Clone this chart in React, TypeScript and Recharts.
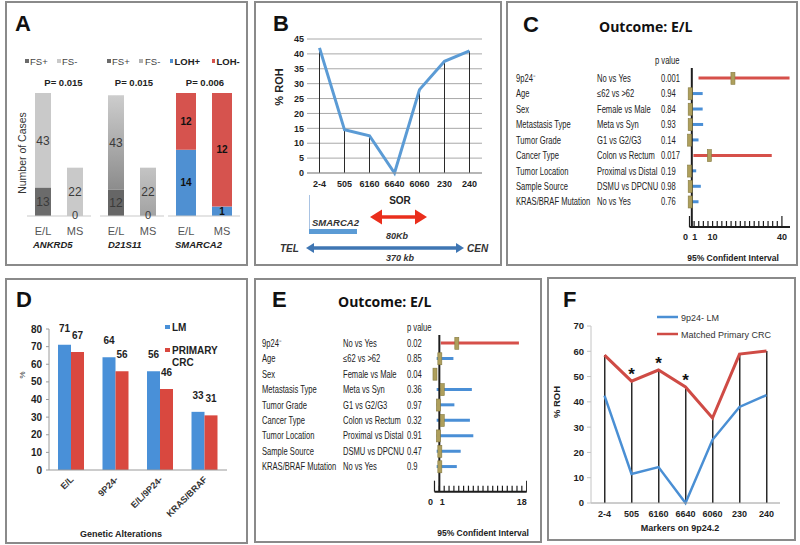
import React from "react";
import {
  Bar,
  BarChart,
  CartesianGrid,
  Cell,
  ComposedChart,
  LabelList,
  Line,
  ReferenceLine,
  XAxis,
  YAxis,
} from "recharts";

// panel A: marker status by outcome group
const A_GROUPS = ["E/L", "MS"];
const ANKRD5_FS_POS = [13, 0];
const ANKRD5_FS_NEG = [43, 22];
const D21S11_FS_POS = [12, 0];
const D21S11_FS_NEG = [43, 22];
const SMARCA2_LOH_POS = [14, 1];
const SMARCA2_LOH_NEG = [12, 12];
const A_GENES = ["ANKRD5", "D21S11", "SMARCA2"];
const A_PVALUES = ["P= 0.015", "P= 0.015", "P= 0.006"];

// panels B and F: markers on 9p24.2
const MARKERS = ["2-4", "505", "6160", "6640", "6060", "230", "240"];
const B_ROH = [42, 14.5, 12.5, 0, 28, 37.5, 41];
const B_TICKS = [0, 5, 10, 15, 20, 25, 30, 35, 40, 45];
const F_LM = [42.5, 11.5, 14.2, 0, 25, 38, 42.7];
const F_PRIMARY = [58.5, 48.2, 52.6, 45.9, 33.6, 58.9, 60.1];
const F_SIG = ["", "*", "*", "*", "", "", ""];
const F_TICKS = [0, 10, 20, 30, 40, 50, 60, 70];

// panels C and E: forest plots, outcome E/L
const FACTORS = [
  "9p24⁻",
  "Age",
  "Sex",
  "Metastasis Type",
  "Tumor Grade",
  "Cancer Type",
  "Tumor Location",
  "Sample Source",
  "KRAS/BRAF Mutation",
];
const COMPARISONS = [
  "No vs Yes",
  "≤62 vs >62",
  "Female vs Male",
  "Meta vs Syn",
  "G1 vs G2/G3",
  "Colon vs Rectum",
  "Proximal vs Distal",
  "DSMU vs DPCNU",
  "No vs Yes",
];
const C_PVALUES = ["0.001", "0.94", "0.84", "0.93", "0.14", "0.017", "0.19", "0.98", "0.76"];
const C_OR = [18.8, 0.3, 0.3, 0.3, 0, 8.6, 0, 0.3, 0.3];
const C_LOW = [3.9, 0.3, 0.3, 0.3, 0, 1.7, 0, 0.3, 0.3];
const C_HIGH = [43.3, 5.7, 5.7, 5.9, 3.9, 35.6, 2.9, 4.9, 3.9];
const C_TICKS = [0, 1, 2, 4, 6, 8, 10, 12, 14, 16, 18, 20, 22, 24, 26, 28, 30, 32, 34, 36, 38, 40];
const C_TICK_LABELS = [0, 1, 10, 40];

const E_PVALUES = ["0.02", "0.85", "0.04", "0.36", "0.97", "0.32", "0.91", "0.47", "0.9"];
const E_OR = [4.6, 1.1, 0.1, 1.6, 0.8, 1.6, 0.8, 1.1, 1.1];
const E_LOW = [1.3, 0.45, 0, 0.45, 0.45, 0.45, 0.45, 0.45, 0.45];
const E_HIGH = [17.4, 3.9, 0.3, 7.7, 4.1, 7.3, 8.0, 5.4, 4.6];
const E_TICKS = [0, 1, 2, 3, 4, 5, 6, 7, 8, 9, 10, 11, 12, 13, 14, 15, 16, 17, 18, 19];
const E_TICK_LABELS = [0, 1, 18];

// panel D
const D_ALTERATIONS = ["E/L", "9P24-", "E/L/9P24-", "KRAS/BRAF"];
const D_LM = [71, 64, 56, 33];
const D_PRIMARY = [67, 56, 46, 31];
const D_TICKS = [0, 10, 20, 30, 40, 50, 60, 70, 80];

const BLUE = "#4a8fd6";
const RED = "#d6504a";
const DARK = "#1e1e1e";
const SANS = "'Liberation Sans', Arial, sans-serif";

const pairData = (a: number[], b: number[], ka: string, kb: string) =>
  A_GROUPS.map((g, i) => ({ cat: g, [ka]: a[i], [kb]: b[i] }));

const forestRows = (p: string[], or: number[], lo: number[], hi: number[]) =>
  FACTORS.map((f, i) => ({
    factor: f,
    comp: COMPARISONS[i],
    p: p[i],
    or: or[i],
    ci: [lo[i], hi[i]],
    sig: parseFloat(p[i]) < 0.05,
  }));

function Narrow({ x, y, children, size = 10, sx = 0.76, anchor = "start" }: any) {
  return (
    <text
      transform={`translate(${x},${y}) scale(${sx},1)`}
      fontSize={size}
      fill="#222"
      textAnchor={anchor}
      fontFamily={SANS}
    >
      {children}
    </text>
  );
}

function RowTick(props: any) {
  const { y, payload, rows, cols, chartLeft } = props;
  const r = rows.find((row: any) => row.factor === payload.value);
  if (!r) return null;
  return (
    <g>
      {[r.factor, r.comp, r.p].map((t: string, i: number) => (
        <Narrow key={i} x={cols[i] - chartLeft} y={y + 3.5}>
          {t}
        </Narrow>
      ))}
    </g>
  );
}

function CombTick(props: any) {
  const { x, y, payload, labels, first, last } = props;
  const v = payload.value;
  const tall = v === first || v === last;
  const shift = v === 0 ? -4 : v === 1 ? 3 : 0;
  return (
    <g>
      <line x1={x} x2={x} y1={y} y2={y - (tall ? 11 : 6)} stroke={DARK} strokeWidth={1.2} />
      {labels.includes(v) ? (
        <text x={x + shift} y={y + 13} textAnchor="middle" fontSize={9} fontWeight="bold" fill={DARK}>
          {v}
        </text>
      ) : null}
    </g>
  );
}

function OliveDot(props: any) {
  const { cx, cy } = props;
  if (cx == null || cy == null) return null;
  return <rect x={cx - 2} y={cy - 6} width={4} height={12} fill="#ae9f5c" stroke="#857a40" strokeWidth={0.6} />;
}

function SlantTick(props: any) {
  const { x, y, payload } = props;
  return (
    <text
      transform={`translate(${x + 3},${y + 10}) rotate(-45)`}
      textAnchor="end"
      fontSize={9}
      fontWeight="bold"
      fill="#333"
    >
      {payload.value}
    </text>
  );
}

const centerLabel = (style: any) => (p: any) => {
  const { x, y, width, height, value, index } = p;
  if (value == null || x == null) return null;
  return (
    <text key={index} x={x + width / 2} y={y + height / 2} dy="0.36em" textAnchor="middle" {...style}>
      {value}
    </text>
  );
};

// an empty bottom segment is not labelled by recharts, so its "0" hangs under the segment above it
const zeroLabel = (style: any) => (p: any) => {
  const { x, y, width, height, value, index } = p;
  if (value !== 0 || x == null) return null;
  return (
    <text key={index} x={x + width / 2} y={y + height - 1} dy="0.36em" textAnchor="middle" {...style} fontSize={11}>
      {value}
    </text>
  );
};

function Forest({ left, top, yWidth, width, height, domain, ticks, labels, rows, cols, pad }: any) {
  return (
    <div style={{ position: "absolute", left, top }}>
      <ComposedChart
        layout="vertical"
        width={width}
        height={height}
        data={rows}
        margin={{ top: 0, right: 0, bottom: 0, left: 0 }}
      >
        <XAxis
          type="number"
          domain={domain}
          ticks={ticks}
          interval={0}
          height={22}
          tickLine={false}
          tickSize={0}
          tickMargin={0}
          axisLine={{ stroke: DARK, strokeWidth: 2 }}
          tick={<CombTick labels={labels} first={ticks[0]} last={ticks[ticks.length - 1]} />}
        />
        <YAxis
          type="category"
          dataKey="factor"
          width={yWidth}
          axisLine={false}
          tickLine={false}
          interval={0}
          padding={pad}
          tick={<RowTick rows={rows} cols={cols} chartLeft={left} />}
        />
        <Bar dataKey="ci" barSize={3} isAnimationActive={false}>
          {rows.map((r: any, i: number) => (
            <Cell key={i} fill={r.sig ? RED : BLUE} />
          ))}
        </Bar>
        <ReferenceLine x={1} stroke={DARK} strokeWidth={2} />
        <Line dataKey="or" stroke="none" dot={<OliveDot />} isAnimationActive={false} />
      </ComposedChart>
    </div>
  );
}

function MiniStack({ left, width, data, segs, barSize, expand, label }: any) {
  return (
    <div style={{ position: "absolute", left, top: 93 }}>
      <BarChart
        width={width}
        height={147}
        data={data}
        margin={{ top: 0, right: 0, bottom: 0, left: 0 }}
        stackOffset={expand ? "expand" : "none"}
      >
        <defs>
          <linearGradient id="fsNegDark" x1="0" y1="0" x2="0" y2="1">
            <stop offset="0%" stopColor="#cdcdcd" />
            <stop offset="100%" stopColor="#8c8c8c" />
          </linearGradient>
          <linearGradient id="fsNegMid" x1="0" y1="0" x2="0" y2="1">
            <stop offset="0%" stopColor="#c4c4c4" />
            <stop offset="100%" stopColor="#a2a2a2" />
          </linearGradient>
        </defs>
        <XAxis
          dataKey="cat"
          height={24}
          tickLine={false}
          tickSize={0}
          tickMargin={11}
          interval={0}
          axisLine={{ stroke: "#c9c9c9" }}
          tick={{ fontSize: 11, fill: "#555" }}
        />
        <YAxis hide domain={expand ? [0, 1] : [0, 56]} />
        {segs.map((s: any, k: number) => (
          <Bar key={s.key} dataKey={s.key} stackId="a" fill={s.fill} barSize={barSize} isAnimationActive={false}>
            {s.cells ? s.cells.map((c: string, i: number) => <Cell key={i} fill={c} />) : null}
            <LabelList dataKey={s.key} content={centerLabel(label)} />
            {k === segs.length - 1 ? <LabelList dataKey={segs[0].key} content={zeroLabel(label)} /> : null}
          </Bar>
        ))}
      </BarChart>
    </div>
  );
}

function Square({ x, y, fill, w = 4 }: any) {
  return <rect x={x} y={y} width={w} height={4} fill={fill} />;
}

export default function App() {
  const ankrd5 = pairData(ANKRD5_FS_POS, ANKRD5_FS_NEG, "pos", "neg");
  const d21s11 = pairData(D21S11_FS_POS, D21S11_FS_NEG, "pos", "neg");
  const smarca2 = pairData(SMARCA2_LOH_POS, SMARCA2_LOH_NEG, "pos", "neg");
  const bData = MARKERS.map((m, i) => ({ m, roh: B_ROH[i] }));
  const fData = MARKERS.map((m, i) => ({ m, lm: F_LM[i], primary: F_PRIMARY[i], star: F_SIG[i] }));
  const dData = D_ALTERATIONS.map((a, i) => ({ a, lm: D_LM[i], primary: D_PRIMARY[i] }));
  const cRows = forestRows(C_PVALUES, C_OR, C_LOW, C_HIGH);
  const eRows = forestRows(E_PVALUES, E_OR, E_LOW, E_HIGH);

  const grayLabel = { fontSize: 12, fill: "#3a3a3a" };
  const boldLabel = { fontSize: 10, fontWeight: "bold", fill: "#111" };
  const axisTick = { fontSize: 9, fontWeight: "bold", fill: DARK };

  const panels = [
    [5, 1, 243, 265],
    [254, 1, 248, 265],
    [506, 1, 292, 265],
    [5, 278, 243, 266],
    [254, 278, 288, 265],
    [547, 277, 249, 264],
  ];

  return (
    <div
      style={{
        position: "absolute",
        left: 0,
        top: 0,
        width: 800,
        height: 545,
        background: "#fff",
        overflow: "hidden",
        fontFamily: SANS,
      }}
    >
      {panels.map(([l, t, w, h], i) => (
        <div
          key={i}
          style={{
            position: "absolute",
            left: l,
            top: t,
            width: w,
            height: h,
            boxSizing: "border-box",
            border: "2px solid #8a8a8a",
          }}
        />
      ))}

      {/* A */}
      <MiniStack
        left={27}
        width={64}
        data={ankrd5}
        barSize={16}
        label={grayLabel}
        segs={[
          { key: "pos", fill: "#6b6b6b" },
          { key: "neg", fill: "#c9c9c9" },
        ]}
      />
      <MiniStack
        left={100}
        width={64}
        data={d21s11}
        barSize={16}
        label={grayLabel}
        segs={[
          { key: "pos", fill: "#666666" },
          { key: "neg", fill: "url(#fsNegDark)", cells: ["url(#fsNegDark)", "url(#fsNegMid)"] },
        ]}
      />
      <MiniStack
        left={168}
        width={72}
        data={smarca2}
        barSize={20}
        expand
        label={boldLabel}
        segs={[
          { key: "pos", fill: "#4f90d2" },
          { key: "neg", fill: "#d6534e" },
        ]}
      />

      {/* B */}
      <div style={{ position: "absolute", left: 276.5, top: 34 }}>
        <ComposedChart width={205} height={159} data={bData} margin={{ top: 5, right: 0, bottom: 0, left: 0 }}>
          <CartesianGrid vertical={false} stroke="#a8a8a8" />
          <XAxis
            dataKey="m"
            height={20}
            interval={0}
            tickLine={false}
            tickSize={0}
            tickMargin={8}
            axisLine={{ stroke: "#999" }}
            tick={axisTick}
          />
          <YAxis
            domain={[0, 45]}
            ticks={B_TICKS}
            interval={0}
            width={30}
            tickLine={false}
            tickSize={0}
            tickMargin={3}
            axisLine={false}
            tick={axisTick}
          />
          <Bar dataKey="roh" barSize={1} fill="#2a2a2a" isAnimationActive={false} />
          <Line dataKey="roh" stroke="#5b9bd5" strokeWidth={3} dot={false} isAnimationActive={false} />
        </ComposedChart>
      </div>

      {/* C */}
      <Forest
        left={510}
        top={68}
        yWidth={179.5}
        width={280}
        height={181}
        domain={[0, 43.5]}
        ticks={C_TICKS}
        labels={C_TICK_LABELS}
        rows={cRows}
        cols={[516, 597, 661]}
        pad={{ top: 2.6, bottom: 17.3 }}
      />

      {/* D */}
      <div style={{ position: "absolute", left: 19, top: 309 }}>
        <BarChart width={208} height={221} data={dData} margin={{ top: 20, right: 0, bottom: 0, left: 0 }} barGap={0}>
          <XAxis
            dataKey="a"
            height={60}
            interval={0}
            tickLine={false}
            tickSize={0}
            tickMargin={0}
            axisLine={{ stroke: "#9a9a9a" }}
            tick={<SlantTick />}
          />
          <YAxis
            domain={[0, 80]}
            ticks={D_TICKS}
            interval={0}
            width={30}
            tickSize={3}
            tickMargin={4}
            axisLine={{ stroke: "#9a9a9a" }}
            tickLine={{ stroke: "#9a9a9a" }}
            tick={{ fontSize: 10, fontWeight: "bold", fill: DARK }}
          />
          <Bar dataKey="lm" fill="#4990d8" barSize={13} isAnimationActive={false}>
            <LabelList dataKey="lm" position="top" offset={13} fontSize={10} fontWeight="bold" fill={DARK} />
          </Bar>
          <Bar dataKey="primary" fill="#d9483f" barSize={13} isAnimationActive={false}>
            <LabelList dataKey="primary" position="top" offset={13} fontSize={10} fontWeight="bold" fill={DARK} />
          </Bar>
        </BarChart>
      </div>

      {/* E */}
      <Forest
        left={258}
        top={335}
        yWidth={176.5}
        width={268.7}
        height={178.7}
        domain={[0, 19]}
        ticks={E_TICKS}
        labels={E_TICK_LABELS}
        rows={eRows}
        cols={[262, 343, 407]}
        pad={{ top: 0.6, bottom: 17.2 }}
      />

      {/* F */}
      <div style={{ position: "absolute", left: 560.5, top: 316 }}>
        <ComposedChart width={219} height={212} data={fData} margin={{ top: 10, right: 0, bottom: 0, left: 0 }}>
          <XAxis
            dataKey="m"
            height={25}
            interval={0}
            tickLine={false}
            tickSize={0}
            tickMargin={8}
            axisLine={{ stroke: "#9a9a9a" }}
            tick={axisTick}
          />
          <YAxis
            domain={[0, 70]}
            ticks={F_TICKS}
            interval={0}
            width={30}
            tickSize={4}
            tickMargin={3}
            axisLine={{ stroke: "#c4c4c4" }}
            tickLine={{ stroke: "#c4c4c4" }}
            tick={{ fontSize: 9.5, fontWeight: "bold", fill: DARK }}
          />
          <Bar dataKey="primary" barSize={1.5} fill="#2a2a2a" isAnimationActive={false} />
          <Line dataKey="lm" stroke="#4a8fd4" strokeWidth={2.5} dot={false} isAnimationActive={false} />
          <Line dataKey="primary" stroke="#cf4b45" strokeWidth={3} dot={false} isAnimationActive={false}>
            <LabelList dataKey="star" position="top" offset={1} fontSize={17} fontWeight="bold" fill="#111" />
          </Line>
        </ComposedChart>
      </div>

      {/* annotations */}
      <svg
        width={800}
        height={545}
        style={{ position: "absolute", left: 0, top: 0, pointerEvents: "none" }}
        fontFamily={SANS}
      >
        <g fontSize={22} fontWeight="bold" fill="#111">
          <text x={15} y={31}>A</text>
          <text x={273} y={31}>B</text>
          <text x={523} y={32}>C</text>
          <text x={16} y={307}>D</text>
          <text x={272} y={307}>E</text>
          <text x={563} y={307}>F</text>
        </g>

        {/* A legends, p values, labels */}
        <g fontSize={9.5} fill="#444">
          <Square x={25} y={59} fill="#6b6b6b" />
          <text x={30} y={64.5}>FS+</text>
          <Square x={57} y={59} fill="#c9c9c9" />
          <text x={62} y={64.5}>FS-</text>
          <Square x={107} y={59} fill="#6b6b6b" />
          <text x={112} y={64.5}>FS+</text>
          <Square x={139} y={59} fill="#b2b2b2" />
          <text x={145} y={64.5}>FS-</text>
          <Square x={170} y={59} w={3} fill="#4f90d2" />
          <text x={174.5} y={64.5} fontWeight="bold" fill="#222">LOH+</text>
          <Square x={212} y={59} w={3} fill="#d6534e" />
          <text x={216.5} y={64.5} fontWeight="bold" fill="#222">LOH-</text>
        </g>
        <g fontSize={9.5} fontWeight="bold" fill="#222" textAnchor="middle">
          {A_PVALUES.map((p, i) => (
            <text key={p + i} x={[63.5, 134, 205][i]} y={86}>
              {p}
            </text>
          ))}
        </g>
        <g fontSize={9.5} fontWeight="bold" fontStyle="italic" fill="#222">
          {A_GENES.map((g, i) => (
            <text key={g} x={[33, 108, 175][i]} y={248}>
              {g}
            </text>
          ))}
        </g>
        <text transform="translate(26,153) rotate(-90)" textAnchor="middle" fontSize={10.5} fill="#333">
          Number of Cases
        </text>

        {/* B annotations */}
        <text transform="translate(283,87) rotate(-90)" textAnchor="middle" fontSize={11} fontWeight="bold" fill="#222">
          % ROH
        </text>
        <text x={400} y={204} textAnchor="middle" fontSize={10} fontWeight="bold" fill="#222">SOR</text>
        <line x1={309.5} x2={309.5} y1={195} y2={230} stroke="#a9c3e3" strokeWidth={1} />
        <text x={312} y={226} fontSize={9.5} fontWeight="bold" fontStyle="italic" fill="#333">SMARCA2</text>
        <rect x={309} y={229} width={48} height={5} fill="#5b9bd5" />
        <line x1={379} x2={418} y1={217} y2={217} stroke="#ea2e1c" strokeWidth={3.5} />
        <polygon points="370,217 382,209.5 382,224.5" fill="#ea2e1c" />
        <polygon points="427,217 415,209.5 415,224.5" fill="#ea2e1c" />
        <text x={397} y={239} textAnchor="middle" fontSize={9} fontWeight="bold" fontStyle="italic" fill="#333">80Kb</text>
        <line x1={312} x2={458} y1={248} y2={248} stroke="#3f76b3" strokeWidth={3.5} />
        <polygon points="306,248 314,243 314,253" fill="#3f76b3" />
        <polygon points="464,248 456,243 456,253" fill="#3f76b3" />
        <g fontSize={10} fontWeight="bold" fontStyle="italic" fill="#333">
          <text x={280} y={252}>TEL</text>
          <text x={467} y={252}>CEN</text>
          <text x={400} y={261} textAnchor="middle" fontSize={9}>370 kb</text>
        </g>

        {/* C / E headers */}
        <g fontFamily="'Open Sans', sans-serif" fontSize={14} fontWeight="bold" fill="#111">
          <text x={599} y={32}>Outcome: E/L</text>
          <text x={338} y={307}>Outcome: E/L</text>
        </g>
        <Narrow x={655} y={64}>p value</Narrow>
        <Narrow x={407} y={331}>p value</Narrow>
        <g fontSize={8.5} fontWeight="bold" fill="#222" textAnchor="middle">
          <text x={733} y={261}>95% Confident Interval</text>
          <text x={483} y={536}>95% Confident Interval</text>
        </g>

        {/* D legend and titles */}
        <Square x={165} y={325} w={5} fill="#4990d8" />
        <Square x={165} y={348} w={5} fill="#d9483f" />
        <g fontSize={10} fontWeight="bold" fill="#222">
          <text x={172} y={331}>LM</text>
          <text x={172} y={354}>PRIMARY</text>
          <text x={172} y={366}>CRC</text>
        </g>
        <text transform="translate(25,375) rotate(-90)" textAnchor="middle" fontSize={8} fill="#333">%</text>
        <text x={121} y={537} textAnchor="middle" fontSize={9} fontWeight="bold" fill="#222">
          Genetic Alterations
        </text>

        {/* F legend and titles */}
        <line x1={657} x2={678} y1={317} y2={317} stroke="#4a8fd4" strokeWidth={2.5} />
        <line x1={657} x2={678} y1={334} y2={334} stroke="#cf4b45" strokeWidth={2.5} />
        <g fontSize={9} fill="#333">
          <text x={681} y={320.5}>9p24- LM</text>
          <text x={681} y={337.5}>Matched Primary CRC</text>
        </g>
        <text transform="translate(560,402) rotate(-90)" textAnchor="middle" fontSize={9.5} fontWeight="bold" fill="#222">
          % ROH
        </text>
        <text x={680} y={531} textAnchor="middle" fontSize={9} fontWeight="bold" fill="#222">
          Markers on 9p24.2
        </text>
      </svg>
    </div>
  );
}
